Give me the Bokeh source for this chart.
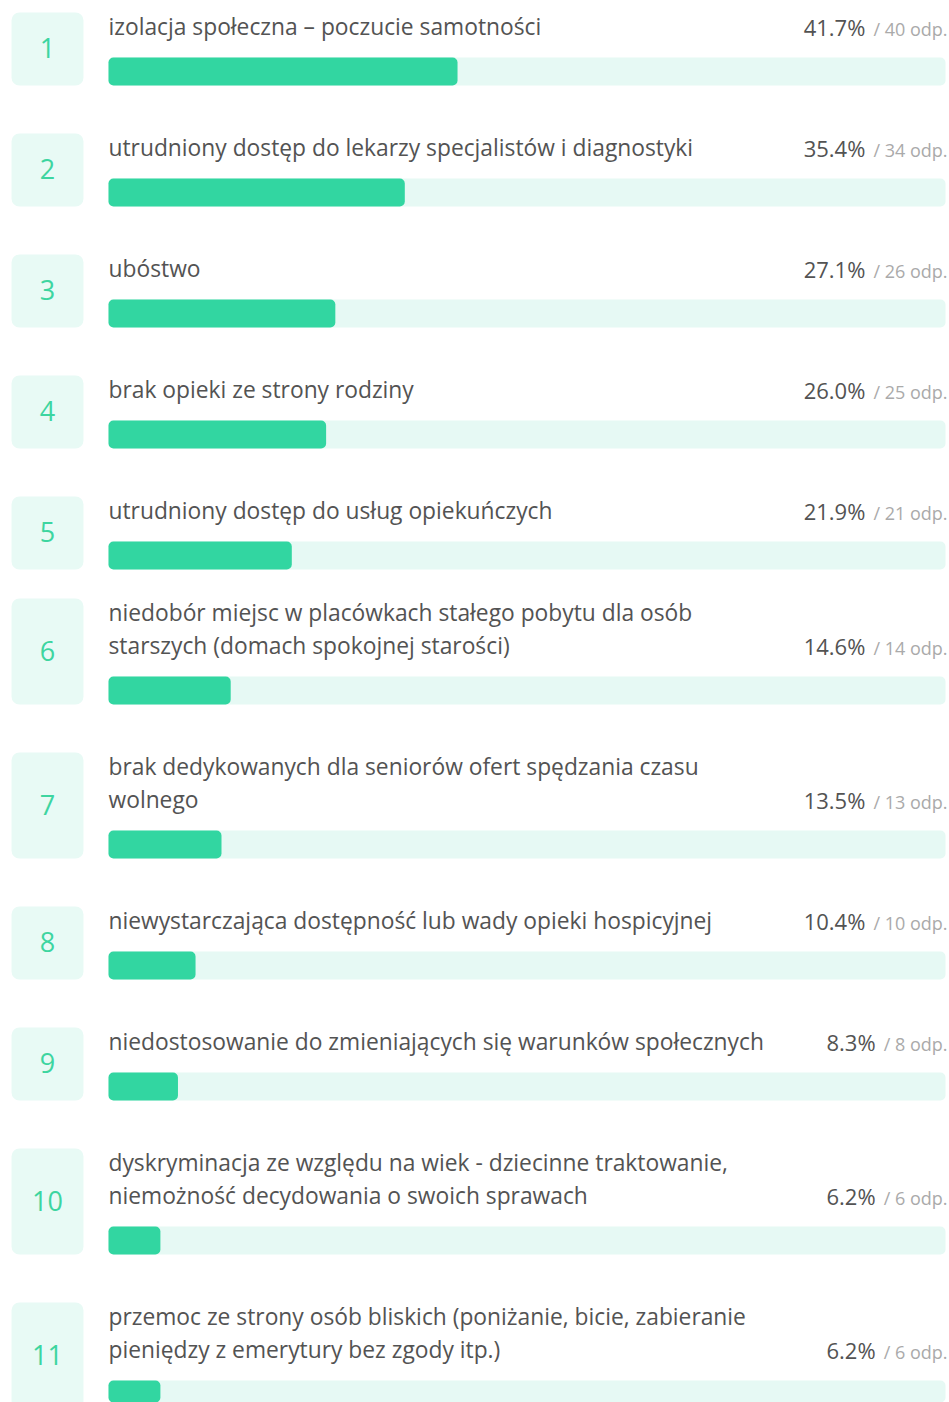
from bokeh.plotting import figure
from bokeh.models import Range1d
from bokeh.core.properties import value
from bokeh.embed import file_html
from bokeh.resources import INLINE

# ---------------- data ----------------
ranks = ["1", "2", "3", "4", "5", "6", "7", "8", "9", "10", "11"]
labels = [
    "izolacja społeczna – poczucie samotności",
    "utrudniony dostęp do lekarzy specjalistów i diagnostyki",
    "ubóstwo",
    "brak opieki ze strony rodziny",
    "utrudniony dostęp do usług opiekuńczych",
    "niedobór miejsc w placówkach stałego pobytu dla osób\nstarszych (domach spokojnej starości)",
    "brak dedykowanych dla seniorów ofert spędzania czasu\nwolnego",
    "niewystarczająca dostępność lub wady opieki hospicyjnej",
    "niedostosowanie do zmieniających się warunków społecznych",
    "dyskryminacja ze względu na wiek - dziecinne traktowanie,\nniemożność decydowania o swoich sprawach",
    "przemoc ze strony osób bliskich (poniżanie, bicie, zabieranie\npieniędzy z emerytury bez zgody itp.)",
]
percents = [41.7, 35.4, 27.1, 26.0, 21.9, 14.6, 13.5, 10.4, 8.3, 6.2, 6.2]
counts = [40, 34, 26, 25, 21, 14, 13, 10, 8, 6, 6]

# ---------------- styling / layout ----------------
FONT = "Open Sans"
GREEN = "#32d6a1"
TRACK = "#e6f9f4"
BOXFILL = "#e8faf5"
NUMCOL = "#3dd5a0"
LABELCOL = "#535353"
PCTCOL = "#535353"
ODPCOL = "#aaaaaa"

W, H = 949, 1402
BAR_L, BAR_R = 108, 945
BOX_L, BOX_R = 11, 83
LINE_H = 33
ROW_H1 = 73
GAP = 48
BAR_H = 28
SHIFT = {5: -19}
LABEL_SIZE = 22.8
PCT_SIZE = 22
ODP_SIZE = 18

p = figure(width=W, height=H, x_range=Range1d(0, W), y_range=Range1d(H, 0),
           output_backend="svg", toolbar_location=None, min_border=0,
           x_axis_location=None, y_axis_location=None, outline_line_color=None)
p.grid.visible = False
p.background_fill_color = "white"
p.border_fill_color = "white"
scale = (BAR_R - BAR_L) / 100.0
p.extra_x_ranges = {"pct": Range1d((0 - BAR_L) / scale, (W - BAR_L) / scale)}

tops, heights = [], []
for i, lab in enumerate(labels):
    n = lab.count("\n") + 1
    h = ROW_H1 + LINE_H * (n - 1)
    t = 12 if i == 0 else tops[-1] + heights[-1] + GAP + SHIFT.get(i, 0)
    tops.append(t)
    heights.append(h)

bottoms = [t + h for t, h in zip(tops, heights)]
bar_y = [b - BAR_H / 2 for b in bottoms]
box_cy = [(t + b) / 2 - 1 for t, b in zip(tops, bottoms)]
N = len(labels)

# rank boxes
p.quad(left=[BOX_L] * N, right=[BOX_R] * N, top=tops, bottom=bottoms,
       fill_color=BOXFILL, line_color=None, border_radius=8)
p.text(x=[(BOX_L + BOX_R) / 2] * N, y=box_cy, text=ranks,
       text_font=value(FONT), text_font_size="27px", text_color=NUMCOL,
       text_align="center", text_baseline="middle")

# tracks and bars (percent scale)
p.hbar(y=bar_y, left=[0] * N, right=[100] * N, height=BAR_H,
       fill_color=TRACK, line_color=None, x_range_name="pct", border_radius=5)
p.hbar(y=bar_y, left=[0] * N, right=percents, height=BAR_H,
       fill_color=GREEN, line_color=None, x_range_name="pct", border_radius=5)

# labels
lx, ly, lt, last_line_y = [], [], [], []
for t, lab in zip(tops, labels):
    for k, line in enumerate(lab.split("\n")):
        lx.append(BAR_L)
        ly.append(t + 14 + LINE_H * k)
        lt.append(line)
    last_line_y.append(t + 14 + LINE_H * lab.count("\n"))
p.text(x=lx, y=ly, text=lt, text_font=value(FONT), text_font_size="%.1fpx" % LABEL_SIZE,
       text_color=LABELCOL, text_align="left", text_baseline="middle")

# percentages and counts
odp_txt = ["/ %d odp." % c for c in counts]
pct_txt = ["%.1f%%" % v for v in percents]
odp_right = 947
def odp_width(c):
    return ODP_SIZE * (0.37 + 0.26 * 2 + 0.57 * len(str(c)) + 0.6 + 0.61 * 2 + 0.27)
pct_right = [odp_right - odp_width(c) - 8 for c in counts]
p.text(x=pct_right, y=last_line_y, text=pct_txt, text_font=value(FONT),
       text_font_size="%dpx" % PCT_SIZE, text_color=PCTCOL, text_align="right",
       text_baseline="middle")
p.text(x=[odp_right] * N, y=[y + 2 for y in last_line_y], text=odp_txt,
       text_font=value(FONT), text_font_size="%dpx" % ODP_SIZE, text_color=ODPCOL,
       text_align="right", text_baseline="middle")

open("out.html", "w").write(file_html(p, INLINE))
